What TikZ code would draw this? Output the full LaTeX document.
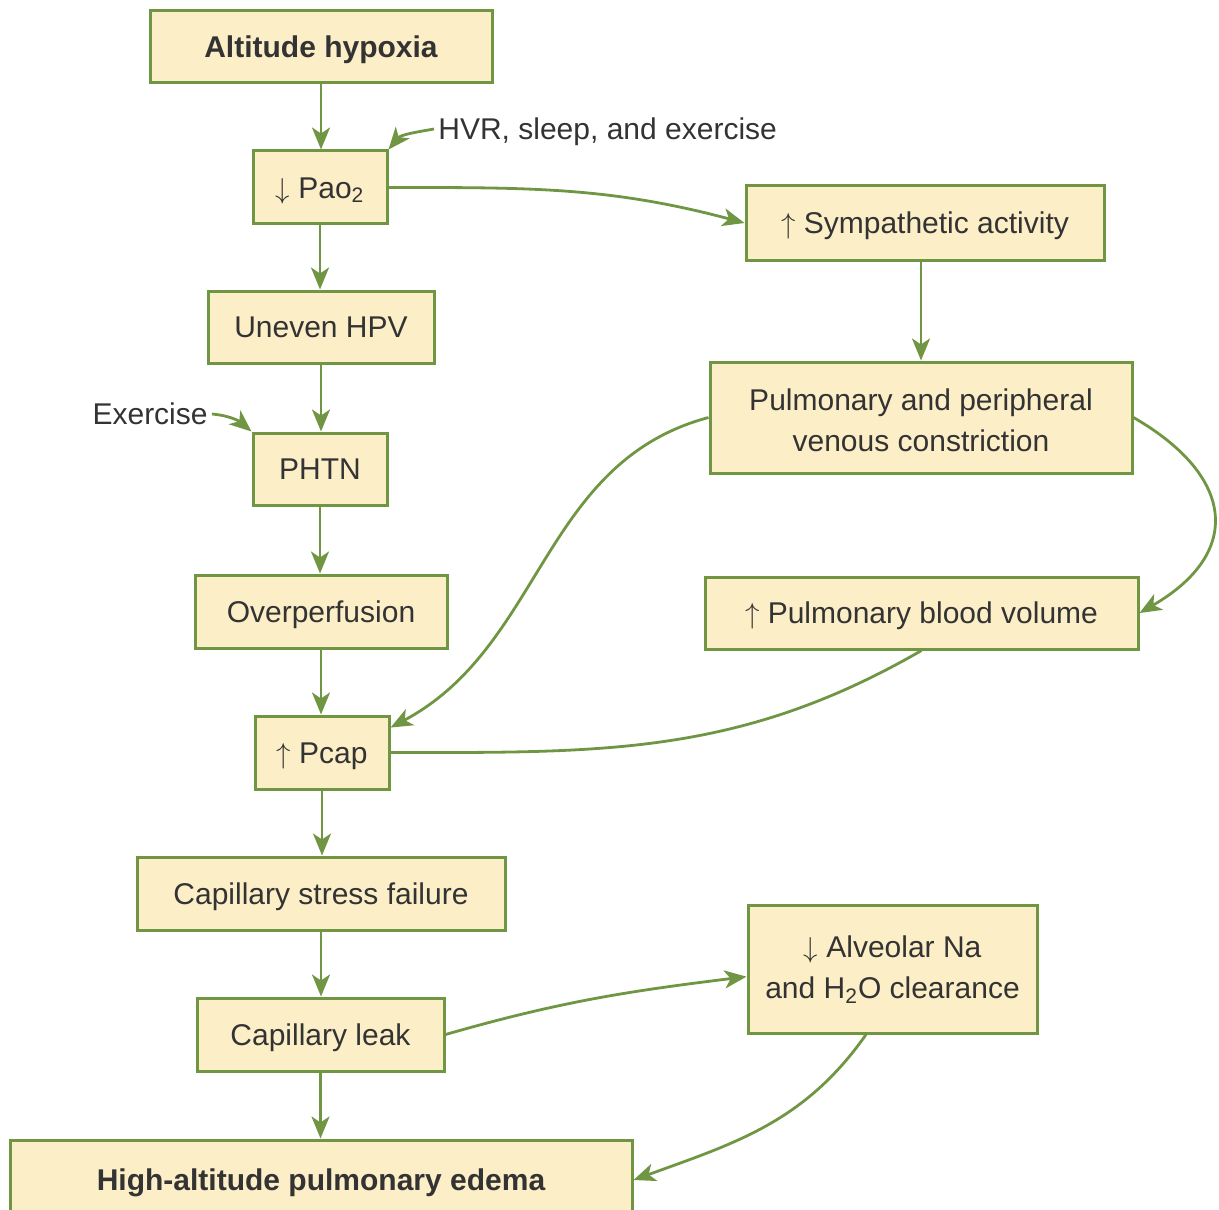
\documentclass[tikz,border=0pt]{standalone}
\usepackage{fontspec}
\setmainfont{Liberation Sans}
\usetikzlibrary{arrows.meta}
\definecolor{boxfill}{RGB}{252,238,199}
\definecolor{leafgreen}{RGB}{112,150,68}
\definecolor{inkgray}{RGB}{51,51,51}
\begin{document}
\begin{tikzpicture}[x=0.5pt,y=-0.5pt,
    box/.style={draw=leafgreen,fill=boxfill,line width=1.5pt,inner sep=0pt,align=center,
      text=inkgray,text height=10.7pt,text depth=0pt,font=\fontsize{15}{20.5}\selectfont},
    line/.style={draw=leafgreen,line width=1.4pt},
    link/.style={line,-{Stealth[length=11pt,width=9pt,inset=3pt]}},
    note/.style={text=inkgray,text height=10.7pt,text depth=0pt,font=\fontsize{15}{18}\selectfont,inner sep=2pt}]
\useasboundingbox (0,0) rectangle (1219,1209);
\node[box,minimum width=171pt,minimum height=36pt,font=\fontsize{15}{18}\selectfont\bfseries] (hyp) at (321,47) {Altitude hypoxia};
\node[box,minimum width=67pt,minimum height=36.5pt] (pao) at (320,187.5) {$\downarrow$ Pao\textsubscript{2}};
\node[box,minimum width=113pt,minimum height=36pt] (hpv) at (321,327) {Uneven HPV};
\node[box,minimum width=67pt,minimum height=36pt] (phtn) at (320,469) {PHTN};
\node[box,minimum width=126pt,minimum height=36.5pt] (over) at (321,611.5) {Overperfusion};
\node[box,minimum width=67pt,minimum height=36.5pt] (pcap) at (322,752.5) {$\uparrow$ Pcap};
\node[box,minimum width=184pt,minimum height=36.5pt] (stress) at (321,893.5) {Capillary stress failure};
\node[box,minimum width=123.5pt,minimum height=36.5pt] (leak) at (320.5,1034.5) {Capillary leak};
\node[box,minimum width=311pt,minimum height=40pt,font=\fontsize{15}{18}\selectfont\bfseries] (hape) at (321,1180) {High-altitude pulmonary edema};
\node[box,minimum width=179pt,minimum height=37pt] (symp) at (925,223) {$\uparrow$ Sympathetic activity};
\node[box,minimum width=211pt,minimum height=55.5pt,text height=33.7pt] (venous) at (921,417.5) {Pulmonary and peripheral\\venous constriction};
\node[box,minimum width=216.5pt,minimum height=36pt] (vol) at (921.5,613) {$\uparrow$ Pulmonary blood volume};
\node[box,minimum width=144.5pt,minimum height=64pt,text height=29.4pt] (clear) at (892.5,969) {$\downarrow$ Alveolar Na\\and H\textsubscript{2}O clearance};
\node[note,anchor=west] (hvr) at (434,129) {HVR, sleep, and exercise};
\node[note,anchor=east] (ex) at (212,414) {Exercise};

\foreach \a/\b in {hyp/pao,pao/hpv,hpv/phtn,phtn/over,over/pcap,pcap/stress,stress/leak,leak/hape}
  \draw[link] (\a.south) -- (\a.south |- \b.north);
\draw[link] (hvr.west) to[out=190,in=50] (pao.north east);
\draw[link] (ex.east) to[out=-5,in=140] (phtn.north west);
\draw[link] (pao.east) to[out=0,in=165] (symp.west);
\draw[link] (venous.north |- symp.south) -- (venous.north);
\draw[link] (venous.west) to[out=195,in=28] (pcap.20);
\draw[link] (venous.east) to[out=-30,in=30,looseness=1.55] (vol.east);
\draw[line] (vol.south) to[out=-150,in=0] (pcap.east);
\draw[link] (leak.east) to[out=16,in=187] (clear.183);
\draw[link] (clear.-112) to[out=-125,in=20] (hape.east);
\end{tikzpicture}
\end{document}
